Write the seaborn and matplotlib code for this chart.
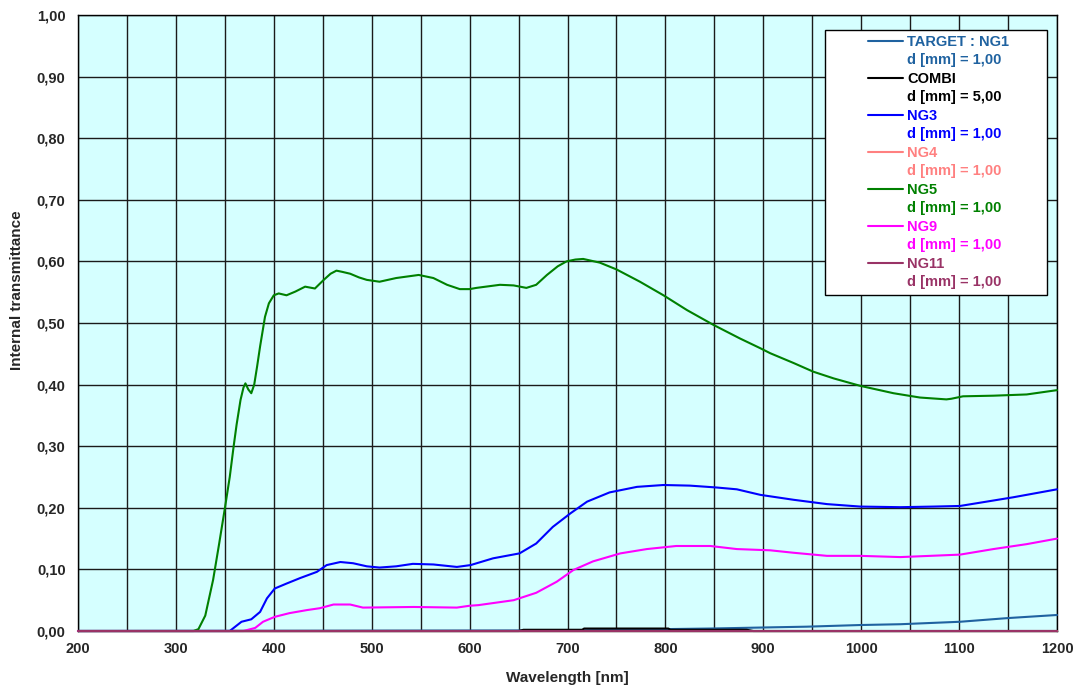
import matplotlib
matplotlib.use("Agg")
import matplotlib.pyplot as plt
import seaborn as sns
import pandas as pd
from matplotlib.ticker import MultipleLocator, FuncFormatter
from matplotlib.lines import Line2D
from matplotlib.patches import Rectangle

# ---------------- data ----------------
series_names = ["TARGET : NG1", "COMBI", "NG3", "NG4", "NG5", "NG9", "NG11"]
thickness_labels = ["d [mm] = 1,00", "d [mm] = 5,00", "d [mm] = 1,00", "d [mm] = 1,00",
                    "d [mm] = 1,00", "d [mm] = 1,00", "d [mm] = 1,00"]
series_colors = ["#1F62A0", "#000000", "#0000FF", "#FF8080", "#008000", "#FF00FF", "#993366"]

ng1_wl = [200, 700, 845, 910, 944, 999, 1040, 1101, 1150, 1200]
ng1_t = [0.0, 0.001, 0.004, 0.006, 0.007, 0.0097, 0.011, 0.015, 0.021, 0.026]

combi_wl = [200, 650, 655, 715, 717, 803, 805, 883, 890, 1200]
combi_t = [0.0, 0.0, 0.002, 0.002, 0.004, 0.004, 0.002, 0.002, 0.0, 0.0]

ng3_wl = [200, 355, 367, 377, 386, 393, 401, 413, 427, 444, 454, 468, 481, 495, 508, 525,
          542, 563, 587, 601, 624, 651, 668, 685, 703, 720, 743, 771, 798, 825, 852, 873,
          897, 931, 965, 999, 1040, 1074, 1101, 1128, 1155, 1200]
ng3_t = [0.0, 0.0, 0.015, 0.019, 0.031, 0.053, 0.069, 0.077, 0.086, 0.096, 0.107, 0.112,
         0.110, 0.105, 0.103, 0.105, 0.109, 0.108, 0.104, 0.107, 0.118, 0.126, 0.142, 0.169,
         0.191, 0.210, 0.225, 0.234, 0.237, 0.236, 0.233, 0.230, 0.221, 0.213, 0.206, 0.202,
         0.201, 0.202, 0.203, 0.210, 0.217, 0.230]

ng4_wl = [200, 1200]
ng4_t = [0.0, 0.0]

ng5_wl = [200, 318, 323, 330, 338, 344, 350, 355, 359, 362, 366, 369, 371, 374, 377, 380,
          383, 386, 391, 395, 400, 405, 413, 422, 432, 442, 451, 458, 464, 470, 478, 487,
          495, 508, 525, 548, 563, 577, 590, 600, 607, 631, 645, 658, 668, 679, 690, 699,
          708, 716, 733, 750, 774, 798, 822, 849, 876, 897, 907, 931, 951, 972, 999, 1033,
          1060, 1087, 1092, 1104, 1135, 1169, 1200]
ng5_t = [0.0, 0.0, 0.003, 0.025, 0.083, 0.140, 0.199, 0.250, 0.300, 0.335, 0.375, 0.395,
         0.402, 0.392, 0.386, 0.400, 0.430, 0.462, 0.510, 0.532, 0.545, 0.548, 0.545, 0.551,
         0.559, 0.556, 0.570, 0.580, 0.585, 0.583, 0.580, 0.574, 0.570, 0.567, 0.573, 0.578,
         0.573, 0.562, 0.555, 0.555, 0.557, 0.562, 0.561, 0.557, 0.562, 0.578, 0.592, 0.600,
         0.603, 0.604, 0.598, 0.587, 0.567, 0.545, 0.521, 0.497, 0.475, 0.459, 0.451, 0.435,
         0.421, 0.410, 0.398, 0.386, 0.379, 0.376, 0.377, 0.381, 0.382, 0.384, 0.391]

ng9_wl = [200, 369, 381, 389, 401, 416, 434, 447, 461, 478, 491, 543, 587, 600, 609, 645,
          668, 689, 706, 726, 754, 781, 811, 846, 873, 907, 931, 965, 999, 1040, 1101, 1135,
          1169, 1200]
ng9_t = [0.0, 0.0, 0.005, 0.015, 0.023, 0.029, 0.034, 0.037, 0.043, 0.043, 0.038, 0.039,
         0.038, 0.041, 0.042, 0.050, 0.062, 0.080, 0.099, 0.113, 0.126, 0.133, 0.138, 0.138,
         0.133, 0.131, 0.127, 0.122, 0.122, 0.120, 0.124, 0.133, 0.141, 0.150]

ng11_wl = [200, 1200]
ng11_t = [0.0, 0.0]

all_wl = [ng1_wl, combi_wl, ng3_wl, ng4_wl, ng5_wl, ng9_wl, ng11_wl]
all_t = [ng1_t, combi_t, ng3_t, ng4_t, ng5_t, ng9_t, ng11_t]

x_ticks = [200, 300, 400, 500, 600, 700, 800, 900, 1000, 1100, 1200]

# ---------------- plot ----------------
sns.set_style("white")
plt.rcParams["font.family"] = ["Liberation Sans", "DejaVu Sans"]
plt.rcParams["font.weight"] = "bold"
plt.rcParams["axes.labelweight"] = "bold"

fig = plt.figure(figsize=(10.79, 6.93), dpi=100)
ax = fig.add_axes([78 / 1079, 1 - 631 / 693, (1057 - 78) / 1079, (631 - 15) / 693])
ax.set_facecolor("#D5FFFF")

for i in range(len(series_names)):
    df = pd.DataFrame({"wl": all_wl[i], "t": all_t[i]})
    sns.lineplot(data=df, x="wl", y="t", color=series_colors[i], linewidth=1.5,
                 ax=ax, legend=False, estimator=None, sort=True, clip_on=False, zorder=3 + i)

ax.set_xlim(200, 1200)
ax.set_ylim(0, 1.0)
ax.set_xticks(x_ticks)
ax.xaxis.set_minor_locator(MultipleLocator(50))
ax.yaxis.set_major_locator(MultipleLocator(0.1))
ax.yaxis.set_major_formatter(FuncFormatter(lambda v, p: f"{v:.2f}".replace(".", ",")))
ax.grid(True, which="both", axis="x", color="#1a1a1a", linewidth=1.0)
ax.grid(True, which="major", axis="y", color="#1a1a1a", linewidth=1.0)
ax.set_axisbelow(True)
ax.tick_params(axis="both", which="both", length=0, labelsize=10.5)
ax.tick_params(axis="y", pad=9)
ax.tick_params(axis="x", pad=8)
for sp in ax.spines.values():
    sp.set_visible(True)
    sp.set_color("black")
    sp.set_linewidth(1.0)

ax.set_xlabel("Wavelength [nm]", fontsize=11, fontweight="bold")
ax.set_ylabel("Internal transmittance", fontsize=11, fontweight="bold")
ax.xaxis.set_label_coords(0.5, -(678 - 631) / 616, transform=ax.transAxes)
ax.xaxis.label.set_va("center")
ax.yaxis.set_label_coords((17 - 78) / 979, (631 - 290) / 616, transform=ax.transAxes)
ax.yaxis.label.set_va("center")

# legend box
box = Rectangle((0.763, 0.545), 0.227, 0.431, transform=ax.transAxes,
                facecolor="white", edgecolor="black", linewidth=1.0, zorder=20)
ax.add_patch(box)

handles, labels, tcolors = [], [], []
for name, dlab, col in zip(series_names, thickness_labels, series_colors):
    handles.append(Line2D([], [], color=col, linewidth=1.5))
    labels.append(name)
    tcolors.append(col)
    handles.append(Line2D([], [], color="none", linewidth=0))
    labels.append(dlab)
    tcolors.append(col)

leg = ax.legend(handles, labels, loc="upper left", bbox_to_anchor=(0.807, 0.968),
                frameon=False, prop={"weight": "bold", "size": 10.5},
                handlelength=2.4, handletextpad=0.3,
                labelspacing=0.31, borderpad=0, borderaxespad=0)
leg.set_zorder(30)
for txt, col in zip(leg.get_texts(), tcolors):
    txt.set_color(col)

fig.savefig("out.png", dpi=100, facecolor="white")
